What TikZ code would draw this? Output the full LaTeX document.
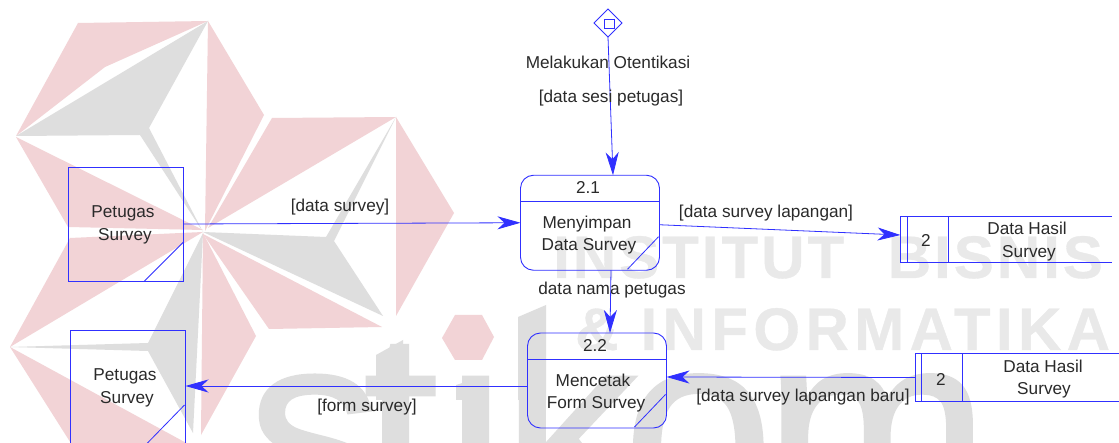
\documentclass[tikz,border=0pt]{standalone}
\usepackage{fontspec}
\setmainfont{Liberation Sans}
\newfontfamily\wmfonta[LetterSpace=5,FakeBold=0.6]{Liberation Sans Bold}
\newfontfamily\wmfontb[LetterSpace=9,FakeBold=0.6]{Liberation Sans Bold}
\newfontfamily\bigfont[FakeBold=1.2]{Liberation Sans}
\usetikzlibrary{arrows.meta,shapes.geometric,calc}
\definecolor{flow}{HTML}{3030FF}
\definecolor{wmpink}{HTML}{F2D3D6}
\definecolor{wmgray}{HTML}{DEDEDE}
\definecolor{wmtext}{HTML}{E9E9E9}
\definecolor{ink}{HTML}{2A2A2A}
\tikzset{
  x=1pt,y=-1pt,
  box/.style={draw=flow,line width=0.9pt,inner sep=0pt,outer sep=0pt},
  entity/.style={box,rectangle,minimum width=115pt,minimum height=114pt},
  process/.style={box,rectangle,rounded corners=13pt,minimum width=139pt,minimum height=95pt},
  thin line/.style={draw=flow,line width=0.8pt},
  flowline/.style={draw=flow,line width=0.8pt,-{Stealth[length=23pt,width=13pt,inset=7pt,fill=flow]}},
  lbl/.style={text=ink,font=\fontsize{17.2}{18}\selectfont,inner sep=0pt,text height=12pt,text depth=0pt},
  bigl/.style={text=wmgray,font=\bigfont\fontsize{270}{270}\selectfont,inner sep=0pt,anchor=base west},
  wml/.style={text=wmtext,font=\fontsize{60}{60}\selectfont,inner sep=0pt,anchor=base west},
}
\begin{document}
\begin{tikzpicture}
\useasboundingbox (0,0) rectangle (1119,443);
\fill[white] (0,0) rectangle (1119,443);
\begin{scope}
\clip (0,0) rectangle (1119,443);
% watermark emblem
\fill[wmpink] (78,23) -- (208,21) -- (105,67) -- (16,136) -- cycle;
\fill[wmgray] (16,136) -- (208,21) -- (149,128) -- (203,232) -- (140,135) -- cycle;
\fill[wmpink] (208,21) -- (264,115) -- (205,231) -- cycle;
\fill[wmpink] (272,118) -- (396,117) -- (208,228) -- cycle;
\fill[wmpink] (396,117) -- (454,213) -- (396,316) -- cycle;
\fill[wmgray] (203,232) -- (326,237) -- (396,117) -- (334,241) -- (383,316) -- cycle;
\fill[wmpink] (203,234) -- (382,327) -- (269,329) -- cycle;
\fill[wmpink] (16,137) -- (203,230) -- (68,227) -- cycle;
\fill[wmpink] (203,232) -- (10,347) -- (70,238) -- cycle;
\fill[wmgray] (203,233) -- (148,343) -- (10,347) -- (148,351) -- (193,433) -- cycle;
\fill[wmpink] (203,233) -- (256,336) -- (201,435) -- cycle;
\fill[wmpink] (10,347) -- (190,445) -- (72,445) -- cycle;
% watermark text
\node[bigl] (ws) at (247,520) {s};
\node[bigl] (wt) at (363,520) {t};
\node[bigl] (wi) at (438,520) {\char"0131};
\node[bigl] (wk) at (502,520) {k};
\node[bigl] (wo) at (623,520) {o};
\node[bigl] (wm) at (764,520) {m};
% slanted stem tops of the logotype
\fill[wmgray] (376,355) -- (403,340) -- (403,400) -- (376,400) -- cycle;
\fill[wmgray] (456,385) -- (482,377) -- (482,400) -- (456,400) -- cycle;
\fill[wmgray] (518,317) -- (546,305) -- (546,400) -- (518,400) -- cycle;
\fill[wmpink] (442,338) -- (455,315) -- (482,315) -- (494,337) -- (482,360) -- (455,360) -- cycle;
\node[wml] (w1) at (553,278) {\wmfonta INSTITUT\hspace{24pt} BISNIS};
\node[wml] (w2) at (575,350) {\wmfontb\& INFORMATIKA};
\end{scope}
% entities
\node[entity] (ent1) at (126,224) {};
\draw[thin line] ($(ent1.east)+(0,18)$) -- ($(ent1.south east)+(-39,0)$);
\node[entity] (ent2) at (128,387) {};
\draw[thin line] ($(ent2.east)+(-1,18)$) -- ($(ent2.south east)+(-39,0)$);
% processes
\node[process] (p21) at (590,222.75) {};
\draw[thin line] ($(p21.north west)+(0,26)$) -- ($(p21.north east)+(0,26)$);
\draw[thin line] ($(p21.east)+(-1,14)$) -- ($(p21.south east)+(-32,-1)$);
\node[process] (p22) at (597,380.5) {};
\draw[thin line] ($(p22.north west)+(0,26)$) -- ($(p22.north east)+(0,26)$);
\draw[thin line] ($(p22.east)+(-1,14)$) -- ($(p22.south east)+(-32,-1)$);
% stores
\node[inner sep=0pt,outer sep=0pt,minimum width=0pt,minimum height=46pt] (st1) at (900.5,239.5) {};
\draw[thin line] (1112,216.5) -- (900.5,216.5) -- (900.5,262.5) -- (1112,262.5);
\draw[thin line] (907.5,216.5) -- (907.5,262.5);
\draw[thin line] (948.5,216.5) -- (948.5,262.5);
\node[inner sep=0pt,outer sep=0pt,minimum width=0pt,minimum height=48pt] (st2) at (915.5,377.5) {};
\draw[thin line] (1119,353.5) -- (915.5,353.5) -- (915.5,401.5) -- (1119,401.5);
\draw[thin line] (921,353.5) -- (921,401.5);
\draw[thin line] (962.5,353.5) -- (962.5,401.5);
% interface
\node[draw=flow,line width=0.9pt,shape=diamond,minimum width=28pt,minimum height=28pt,inner sep=0pt,outer sep=0pt] (ifc) at (608,23) {};
\node[draw=flow,line width=0.8pt,rectangle,minimum width=10.5pt,minimum height=9pt,inner sep=0pt] (ifcb) at (609.5,23.5) {};
% connectors
\draw[flowline] (ifc.south) -- ([xshift=23pt]p21.north);
\draw[flowline] (ent1.east) -- (p21.west);
\draw[flowline] ([yshift=-2pt]p21.east) -- ([yshift=4.5pt]st1.center);
\draw[flowline] ([xshift=21pt]p21.south) -- ([xshift=13pt]p22.north);
\draw[flowline] ([yshift=-5.5pt]p22.west) -- ([yshift=1pt]ent2.east);
\draw[flowline] (st2.center) -- ([yshift=3.5pt]p22.east);
% labels
\node[lbl] (t1) at (123,212) {Petugas};
\node[lbl] (t2) at (125,235) {Survey};
\node[lbl] (t3) at (125,375) {Petugas};
\node[lbl] (t4) at (127,397) {Survey};
\node[lbl] (t5) at (340,205.5) {[data survey]};
\node[lbl] (t6) at (367,405) {[form survey]};
\node[lbl] (t7) at (588,188) {2.1};
\node[lbl] (t8) at (587,223) {Menyimpan};
\node[lbl] (t9) at (589,245) {Data Survey};
\node[lbl] (t10) at (595,346) {2.2};
\node[lbl] (t11) at (593,381) {Mencetak};
\node[lbl] (t12) at (596,403) {Form Survey};
\node[lbl] (t13) at (612,289) {data nama petugas};
\node[lbl] (t14) at (608,63) {Melakukan Otentikasi};
\node[lbl] (t15) at (611,97) {[data sesi petugas]};
\node[lbl] (t16) at (766,212) {[data survey lapangan]};
\node[lbl] (t17) at (803,396) {[data survey lapangan baru]};
\node[lbl] (t18) at (926,241) {2};
\node[lbl] (t19) at (1027,229) {Data Hasil};
\node[lbl] (t20) at (1029,252) {Survey};
\node[lbl] (t21) at (941,379) {2};
\node[lbl] (t22) at (1043,367) {Data Hasil};
\node[lbl] (t23) at (1044,389) {Survey};
\end{tikzpicture}
\end{document}
